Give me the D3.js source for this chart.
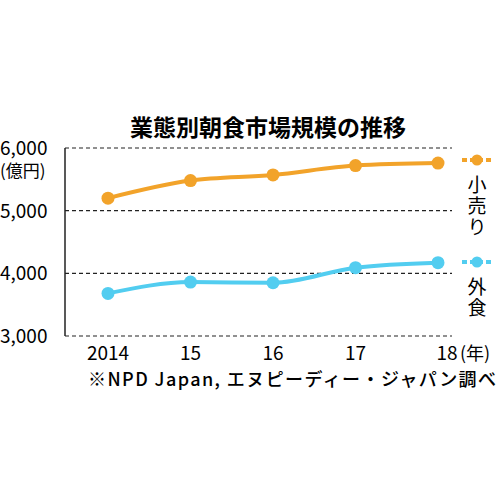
<!DOCTYPE html>
<html><head><meta charset="utf-8">
<script src="https://cdn.jsdelivr.net/npm/d3@7"></script>
<style>body{margin:0;background:#fff}text{font-family:"Noto Sans CJK JP",sans-serif}</style>
</head><body><svg width="500" height="500"></svg>
<script>
var years = [2014, 2015, 2016, 2017, 2018];
var yearLabels = ['2014', '15', '16', '17', '18'];
var retail = [5200, 5480, 5570, 5720, 5760];
var dining = [3680, 3860, 3850, 4090, 4170];
var yTicks = [3000, 4000, 5000, 6000];

var svg = d3.select('svg');
var x = d3.scalePoint().domain(years).range([108, 438]);
var y = d3.scaleLinear().domain([3000, 6000]).range([336, 148]);

svg.append('text').attr('x', 268).attr('y', 136).attr('text-anchor', 'middle')
  .attr('font-size', 23).attr('font-weight', 'bold').text('業態別朝食市場規模の推移');

// grid
svg.selectAll('.grid').data([3000, 4000, 5000, 6000]).enter().append('line')
  .attr('x1', 65).attr('x2', 452)
  .attr('y1', function(d) { return y(d); }).attr('y2', function(d) { return y(d); })
  .attr('stroke', '#222').attr('stroke-width', 1.2).attr('stroke-dasharray', '4,3');
svg.append('line').attr('x1', 65).attr('x2', 65).attr('y1', y(6000)).attr('y2', y(3000))
  .attr('stroke', '#222').attr('stroke-width', 1.5);

svg.selectAll('.yt').data(yTicks).enter().append('text')
  .attr('x', 0).attr('y', function(d) { return y(d) + 7; })
  .attr('font-size', 19).attr('font-family', 'Liberation Sans Narrow, Liberation Sans')
  .text(function(d) { return d3.format(',')(d); });
svg.append('text').attr('x', 0).attr('y', 177).attr('font-size', 17).text('(億円)');

svg.selectAll('.xt').data(years).enter().append('text')
  .attr('x', function(d) { return x(d) + (d === 2018 ? 9 : 0); }).attr('y', 360).attr('text-anchor', 'middle')
  .attr('font-size', 19).attr('font-family', 'Liberation Sans Narrow, Liberation Sans')
  .text(function(d, i) { return yearLabels[i]; });
svg.append('text').attr('x', 460).attr('y', 360).attr('font-size', 18).text('(年)');
svg.append('text').attr('x', 88).attr('y', 386).attr('font-size', 18).attr('font-weight', 500)
  .attr('textLength', 408).text('※NPD Japan, エヌピーディー・ジャパン調べ');

var line = d3.line().x(function(d, i) { return x(years[i]); }).y(function(d) { return y(d); })
  .curve(d3.curveMonotoneX);
var series = [
  {v: retail, c: '#f2a32a', name: ['小', '売', 'り'], ly: 160},
  {v: dining, c: '#52cdf0', name: ['外', '食'], ly: 262}
];
series.forEach(function(s) {
  svg.append('path').attr('d', line(s.v)).attr('fill', 'none')
    .attr('stroke', s.c).attr('stroke-width', 4);
  svg.selectAll(null).data(s.v).enter().append('circle')
    .attr('cx', function(d, i) { return x(years[i]); }).attr('cy', function(d) { return y(d); })
    .attr('r', 6.5).attr('fill', s.c);
  svg.append('line').attr('x1', 462).attr('x2', 492).attr('y1', s.ly).attr('y2', s.ly)
    .attr('stroke', s.c).attr('stroke-width', 4).attr('stroke-dasharray', '5,3');
  svg.append('circle').attr('cx', 477).attr('cy', s.ly).attr('r', 5.5).attr('fill', s.c);
  svg.selectAll(null).data(s.name).enter().append('text')
    .attr('x', 477).attr('y', function(d, i) { return s.ly + 32 + i * 21; })
    .attr('text-anchor', 'middle').attr('font-size', 19).text(function(d) { return d; });
});
</script></body></html>
